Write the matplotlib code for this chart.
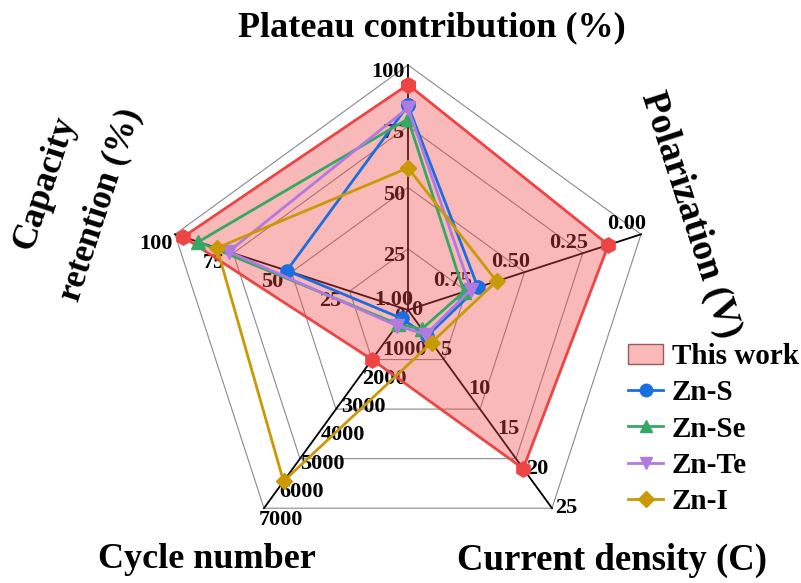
import numpy as np
import matplotlib.pyplot as plt
from matplotlib.patches import Patch, Polygon
from matplotlib.lines import Line2D

# axes of the radar chart (clockwise from top)
axis_names = ["Plateau contribution (%)", "Polarization (V)", "Current density (C)",
              "Cycle number", "Capacity retention (%)"]
axis_lo = [0, 1.0, 0, 0, 0]          # value at the centre
axis_hi = [100, 0.0, 25, 7000, 100]  # value at the outer ring

plateau_ticks = [0, 25, 50, 75, 100]
polar_ticks = [1.00, 0.75, 0.50, 0.25, 0.00]
current_ticks = [0, 5, 10, 15, 20, 25]
cycle_ticks = [1000, 2000, 3000, 4000, 5000, 6000, 7000]
capacity_ticks = [25, 50, 75, 100]

# values: plateau, polarization, current density, cycle number, capacity retention
this_work = [92, 0.14, 20, 1750, 96.5]
zn_s = [83.5, 0.70, 3.3, 300, 52]
zn_se = [78, 0.76, 2.4, 500, 90]
zn_te = [82.5, 0.73, 3.1, 550, 77]
zn_i = [58, 0.62, 4.1, 6050, 82]

angles = np.deg2rad([90, 18, -54, -126, 162])
R = 245.0
cx, cy = 408, 310
FONT = "Liberation Serif"


def to_xy(i, v):
    r = (v - axis_lo[i]) / (axis_hi[i] - axis_lo[i])
    return r * np.cos(angles[i]), r * np.sin(angles[i])


def series_xy(vals):
    pts = [to_xy(i, v) for i, v in enumerate(vals)]
    xs = [p[0] for p in pts] + [pts[0][0]]
    ys = [p[1] for p in pts] + [pts[0][1]]
    return xs, ys


fig = plt.figure(figsize=(8.01, 5.83), dpi=100)
ax = fig.add_axes([0, 0, 1, 1])
ax.set_xlim(-cx / R, (801 - cx) / R)
ax.set_ylim((cy - 583) / R, cy / R)
ax.axis("off")

# pentagon grid
for lev in [0.25, 0.5, 0.75, 1.0]:
    gx = list(lev * np.cos(angles)) + [lev * np.cos(angles[0])]
    gy = list(lev * np.sin(angles)) + [lev * np.sin(angles[0])]
    ax.plot(gx, gy, color="#8a8a8a", lw=0.8, zorder=1)

# spokes
for a in angles:
    ax.plot([0, np.cos(a)], [0, np.sin(a)], color="black", lw=1.3, zorder=2)

# tick labels (offsets in pixels)
tick_style = dict(fontsize=16, fontweight="bold", family=FONT, color="black", zorder=3)


def tick_labels(i, ticks, fmt, dx, dy, ha):
    for t in ticks:
        x, y = to_xy(i, t)
        ax.text(x + dx / R, y + dy / R, fmt.format(t), ha=ha, va="center", **tick_style)


tick_labels(0, plateau_ticks, "{:d}", -3, -7, "right")
tick_labels(1, polar_ticks, "{:.2f}", -14, 10, "center")
tick_labels(2, current_ticks, "{:d}", 3, 0, "left")
tick_labels(3, cycle_ticks, "{:d}", -5, -12, "left")
tick_labels(4, capacity_ticks, "{:d}", -19, -10, "center")

# this work (filled)
tx, ty = series_xy(this_work)
ax.add_patch(Polygon(np.column_stack([tx, ty]), closed=True, facecolor="#f04848",
                     alpha=0.38, edgecolor="none", zorder=4))
ax.plot(tx, ty, color="#ef4444", lw=2, marker="h", ms=11, zorder=5)

others = [(zn_s, "Zn-S", "#1a6fe0", "o"),
          (zn_se, "Zn-Se", "#34a865", "^"),
          (zn_te, "Zn-Te", "#b07ae0", "v"),
          (zn_i, "Zn-I", "#c99a06", "D")]
for vals, name, col, mk in others:
    xs, ys = series_xy(vals)
    ax.plot(xs, ys, color=col, lw=2, marker=mk, ms=9.5 if mk != "D" else 8.5, zorder=6)

# axis titles
title_style = dict(fontweight="bold", family=FONT, color="black")
fig.text(432 / 801, 1 - 28 / 583, axis_names[0], ha="center", va="center",
         fontsize=26, **title_style)
fig.text(690 / 801, 1 - 215 / 583, axis_names[1], ha="center", va="center",
         rotation=-72, rotation_mode="anchor", fontsize=27, **title_style)
fig.text(612 / 801, 1 - 560 / 583, axis_names[2], ha="center", va="center",
         fontsize=26.5, **title_style)
fig.text(207 / 801, 1 - 560 / 583, axis_names[3], ha="center", va="center",
         fontsize=26, **title_style)
fig.text(45 / 801, 1 - 183 / 583, "Capacity", ha="center", va="center",
         rotation=72, rotation_mode="anchor", fontsize=26, **title_style)
fig.text(101 / 801, 1 - 205 / 583, "retention (%)", ha="center", va="center",
         rotation=72, rotation_mode="anchor", fontsize=25, **title_style)

# legend
handles = [Patch(facecolor="#f8b9b9", edgecolor="#9a5a5a", lw=1, label="This work")]
for vals, name, col, mk in others:
    handles.append(Line2D([0], [0], color=col, lw=2, marker=mk,
                          ms=9 if mk != "D" else 8, label=name))
fig.legend(handles=handles, loc="upper left", bbox_to_anchor=(628 / 801, 1 - 343 / 583),
           frameon=False, prop=dict(family=FONT, weight="bold", size=21),
           handlelength=1.2, handletextpad=0.3, labelspacing=0.32,
           borderpad=0, borderaxespad=0)

fig.savefig("out.png", dpi=100)
